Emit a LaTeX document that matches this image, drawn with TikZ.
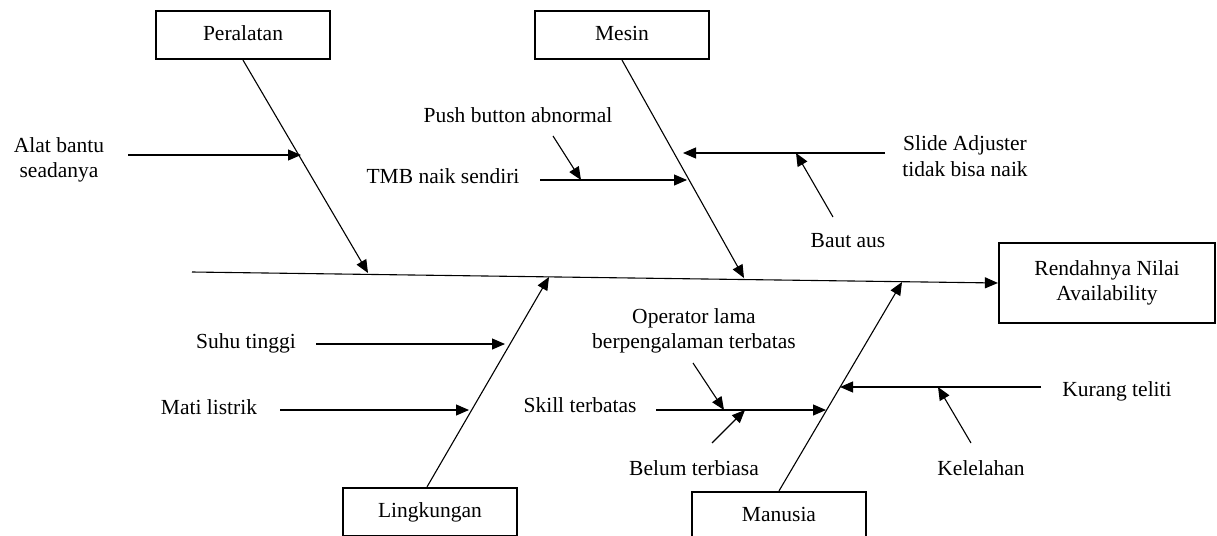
\documentclass[tikz,border=0pt]{standalone}
\usepackage{fontspec}
\setmainfont{Liberation Serif}
\usetikzlibrary{arrows.meta}
\begin{document}
\begin{tikzpicture}[x=1pt,y=-1pt,
  every node/.style={font=\fontsize{21.5}{25.5}\selectfont, inner sep=0pt},
  box/.style={draw, line width=2.2pt, minimum width=174pt, minimum height=48pt, text height=15pt, text depth=4.5pt},
  resbox/.style={draw, line width=2.2pt, minimum width=216pt, minimum height=80pt, align=center},
  lbl/.style={align=center},
  tx/.style={anchor=base},
  arr/.style={line width=1.1pt, -{Triangle[length=13pt,width=11pt]}}]
\useasboundingbox[fill=white] (0,0) rectangle (1217,535);

% category boxes
\node[box] (per) at (243,35) {Peralatan};
\node[box] (mes) at (622,35) {Mesin};
\node[box] (lin) at (430,512) {Lingkungan};
\node[box] (man) at (779,516) {Manusia};
\node[resbox] (res) at (1107,283) {Rendahnya Nilai\\Availability};

% spine
\coordinate (s0) at (192,272);
\draw[arr] (s0) -- (res.west);

% bone tips on spine
\coordinate (tper) at (368,273);
\coordinate (tmes) at (744,278);
\coordinate (tlin) at (549,277);
\coordinate (tman) at (902,282);
\draw[arr] (per.south) -- (tper);
\draw[arr] (mes.south) -- (tmes);
\draw[arr] (lin.north -| 427,0) -- (tlin);
\draw[arr] (man.north) -- (tman);

% texts
\node[lbl] (alat) at (59,160) {Alat bantu\\seadanya};
\node[tx] (push) at (518,122) {Push button abnormal};
\node[tx] (tmb) at (443,183) {TMB naik sendiri};
\node[lbl] (slide) at (965,156) {Slide Adjuster\\tidak bisa naik};
\node[tx] (baut) at (848,247) {Baut aus};
\node[tx] (suhu) at (246,348) {Suhu tinggi};
\node[tx] (mati) at (209,414) {Mati listrik};
\node[lbl] (oper) at (694,331) {Operator lama\\berpengalaman terbatas};
\node[tx] (skill) at (580,412) {Skill terbatas};
\node[tx] (belum) at (694,475) {Belum terbiasa};
\node[tx] (kurang) at (1117,396) {Kurang teliti};
\node[tx] (kel) at (981,475) {Kelelahan};

% cause arrows
\coordinate (a1) at (128,155); \coordinate (a2) at (301,155);
\draw[arr] (a1) -- (a2);
\coordinate (t1) at (540,180); \coordinate (t2) at (687,180);
\draw[arr] (t1) -- (t2);
\coordinate (p1) at (553,136); \coordinate (p2) at (581,180);
\draw[arr] (p1) -- (p2);
\coordinate (sl1) at (885,153); \coordinate (sl2) at (683,153);
\draw[arr] (sl1) -- (sl2);
\coordinate (b1) at (833,217); \coordinate (b2) at (796,153);
\draw[arr] (b1) -- (b2);
\coordinate (su1) at (316,344); \coordinate (su2) at (505,344);
\draw[arr] (su1) -- (su2);
\coordinate (m1) at (280,410); \coordinate (m2) at (469,410);
\draw[arr] (m1) -- (m2);
\coordinate (sk1) at (656,410); \coordinate (sk2) at (826,410);
\draw[arr] (sk1) -- (sk2);
\coordinate (o1) at (693,363); \coordinate (o2) at (724,410);
\draw[arr] (o1) -- (o2);
\coordinate (be1) at (712,443); \coordinate (be2) at (745,410);
\draw[arr] (be1) -- (be2);
\coordinate (k1) at (1041,387); \coordinate (k2) at (840,387);
\draw[arr] (k1) -- (k2);
\coordinate (ke1) at (971,443); \coordinate (ke2) at (938,387);
\draw[arr] (ke1) -- (ke2);
\end{tikzpicture}
\end{document}
